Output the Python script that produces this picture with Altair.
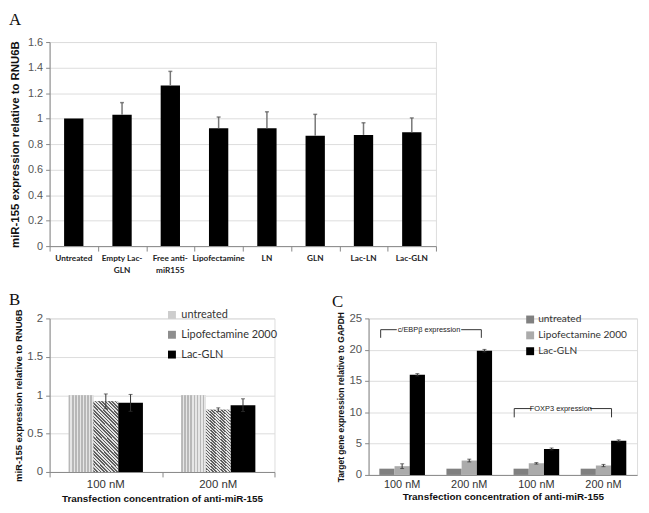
import altair as alt
import pandas as pd

# ---------------- Panel A data ----------------
a_categories = ["Untreated", "Empty Lac-|GLN", "Free anti-|miR155", "Lipofectamine",
                "LN", "GLN", "Lac-LN", "Lac-GLN"]
a_values = [1.0, 1.03, 1.26, 0.925, 0.925, 0.865, 0.872, 0.892]
a_errors = [0.0, 0.095, 0.11, 0.087, 0.128, 0.168, 0.095, 0.113]
a_yticks = [0, 0.2, 0.4, 0.6, 0.8, 1.0, 1.2, 1.4, 1.6]

# ---------------- Panel B data ----------------
b_groups = ["100 nM", "200 nM"]
series = ["untreated", "Lipofectamine 2000", "Lac-GLN"]
b_values_100 = [1.0, 0.92, 0.90]
b_values_200 = [1.0, 0.81, 0.87]
b_errors_100 = [0.0, 0.096, 0.11]
b_errors_200 = [0.0, 0.025, 0.083]
b_yticks = [0, 0.5, 1, 1.5, 2]

# ---------------- Panel C data ----------------
c_groups = ["c/EBPβ 100 nM", "c/EBPβ 200 nM", "FOXP3 100 nM", "FOXP3 200 nM"]
c_untreated = [1.0, 1.0, 1.0, 1.0]
c_lipo = [1.4, 2.3, 1.85, 1.5]
c_lacgln = [16.0, 19.85, 4.15, 5.45]
c_untreated_err = [0.0, 0.0, 0.0, 0.0]
c_lipo_err = [0.38, 0.22, 0.12, 0.18]
c_lacgln_err = [0.18, 0.2, 0.15, 0.15]
c_yticks = [0, 5, 10, 15, 20, 25]

# bracket annotations in panel C (group-index units on x, data units on y)
br_labels = ["c/EBPβ expression", "FOXP3 expression"]
br_left = [0.18, 2.17]
br_right = [1.68, 3.62]
br_gap_left = [0.42, 2.43]
br_gap_right = [1.38, 3.3]
br_top = [23.2, 10.6]
br_leg = [21.9, 9.2]

FONT = "Lato"
SERIF = "Liberation Serif"

# ================= Panel A =================
dfA = pd.DataFrame({"cat": a_categories, "val": a_values, "err": a_errors})
dfA["hi"] = dfA["val"] + dfA["err"]

xA_scale = alt.Scale(domain=a_categories, paddingInner=0.6, paddingOuter=0.3)
yA_scale = alt.Scale(domain=[0, 1.6], nice=False)
yA_axis = alt.Axis(values=a_yticks, format="~g", title="miR-155 expression relative to RNU6B",
                   titleFontSize=11.5, titleFontWeight="bold", titleColor="#111",
                   titlePadding=7, labelFontSize=11, labelColor="#555",
                   tickSize=4, labelPadding=3, labelOverlap=False)
xA = alt.X("cat:N", sort=a_categories, scale=xA_scale,
           axis=alt.Axis(title=None, labelAngle=0, ticks=False, tickSize=0,
                         labelExpr="split(datum.label, '|')",
                         labelFont=FONT, labelFontWeight="bold", labelFontSize=8.3,
                         labelColor="#222", labelPadding=8, labelLineHeight=12))

barsA = alt.Chart(dfA).mark_bar(color="black").encode(
    x=xA, y=alt.Y("val:Q", scale=yA_scale, axis=yA_axis))
errA = alt.Chart(dfA).transform_filter("datum.err > 0").mark_rule(color="#777", strokeWidth=1.5).encode(
    x=xA, y=alt.Y("val:Q", scale=yA_scale, axis=yA_axis), y2="hi:Q")
capA = alt.Chart(dfA).transform_filter("datum.err > 0").mark_tick(color="#555", thickness=1.5, size=4).encode(
    x=xA, y=alt.Y("hi:Q", scale=yA_scale, axis=yA_axis))

tA = pd.DataFrame({"t": list(range(len(a_categories) + 1))})
ticksA = alt.Chart(tA).mark_point(opacity=0).encode(
    x=alt.X("t:Q", scale=alt.Scale(domain=[0, len(a_categories)], nice=False, zero=False),
            axis=alt.Axis(orient="bottom", values=list(range(len(a_categories) + 1)), labels=False,
                          domain=False, title=None, tickSize=5, grid=False)))

chartA = alt.layer(alt.layer(barsA, errA, capA), ticksA).resolve_scale(x="independent").properties(
    width=390, height=206,
    title=alt.TitleParams("A", anchor="start", frame="group", font=SERIF, fontSize=17,
                          fontWeight="normal", dx=-41, offset=7, color="#111"))

# ================= Panel B =================
rows = []
for g, vals, errs in [(b_groups[0], b_values_100, b_errors_100), (b_groups[1], b_values_200, b_errors_200)]:
    for s, v, e in zip(series, vals, errs):
        rows.append({"grp": g, "series": s, "val": v, "err": e})
dfB = pd.DataFrame(rows)
dfB["lo"] = dfB["val"] - dfB["err"]
dfB["hi"] = dfB["val"] + dfB["err"]

b_colors = ["#cdcdcd", "#8e8e8e", "#000000"]
xB_scale = alt.Scale(domain=b_groups, paddingInner=0.34, paddingOuter=0.17)
xoB_scale = alt.Scale(domain=series, paddingInner=0, paddingOuter=0)
yB_scale = alt.Scale(domain=[0, 2], nice=False)
yB_axis = alt.Axis(values=b_yticks, format="~g", title="miR-155 expression relative to RNU6B",
                   titleFontSize=9.6, titleFontWeight="bold", titleColor="#111", titlePadding=3,
                   labelFontSize=11.5, labelColor="#555", tickSize=4, labelPadding=3,
                   labelOverlap=False)
xB = alt.X("grp:N", sort=b_groups, scale=xB_scale,
           axis=alt.Axis(title="Transfection concentration of anti-miR-155", labelAngle=0, ticks=False,
                         tickSize=0, labelFontSize=11.5, labelColor="#333", labelPadding=7,
                         titleFontSize=10, titleFontWeight="bold", titleColor="#111", titlePadding=3))
xoB = alt.XOffset("series:N", sort=series, scale=xoB_scale)


def stripes(n, frac, dark, light):
    stops = []
    for i in range(n):
        a = i / n
        b = (i + frac) / n
        c = (i + 1) / n
        stops += [alt.GradientStop(color=dark, offset=a), alt.GradientStop(color=dark, offset=b),
                  alt.GradientStop(color=light, offset=b), alt.GradientStop(color=light, offset=c)]
    return stops


grad_vert = alt.LinearGradient(gradient="linear", stops=stripes(8, 0.55, "#b8b8b8", "#e6e6e6"),
                               x1=0, y1=0, x2=1, y2=0)
grad_diag = alt.LinearGradient(gradient="linear", stops=stripes(28, 0.5, "#606060", "#e4e4e4"),
                               x1=0, y1=1, x2=0.43, y2=-0.2)

barsB = alt.Chart(dfB).mark_bar().encode(
    x=xB, xOffset=xoB, y=alt.Y("val:Q", scale=yB_scale, axis=yB_axis),
    color=alt.Color("series:N", sort=series, scale=alt.Scale(domain=series, range=b_colors),
                    legend=alt.Legend(orient="none", legendX=118, legendY=-9, title=None,
                                      symbolType="square", symbolSize=64, symbolStrokeWidth=0,
                                      labelFont=FONT, labelFontSize=11, labelColor="#333",
                                      rowPadding=8, padding=0, labelOffset=4)))
ovB1 = alt.Chart(dfB).transform_filter(alt.datum.series == series[0]).mark_bar(color=grad_vert).encode(
    x=xB, xOffset=xoB, y=alt.Y("val:Q", scale=yB_scale, axis=yB_axis))
ovB2 = alt.Chart(dfB).transform_filter(alt.datum.series == series[1]).mark_bar(color=grad_diag).encode(
    x=xB, xOffset=xoB, y=alt.Y("val:Q", scale=yB_scale, axis=yB_axis))
errB = alt.Chart(dfB).transform_filter("datum.err > 0").mark_rule(color="#333", strokeWidth=1).encode(
    x=xB, xOffset=xoB, y=alt.Y("lo:Q", scale=yB_scale, axis=yB_axis), y2="hi:Q")
capB = alt.Chart(dfB).transform_filter("datum.err > 0").transform_fold(["lo", "hi"], as_=["end", "yv"]).mark_tick(
    color="#333", thickness=1, size=4).encode(
    x=xB, xOffset=xoB, y=alt.Y("yv:Q", scale=yB_scale, axis=yB_axis))

tB = pd.DataFrame({"t": list(range(len(b_groups) + 1))})
ticksB = alt.Chart(tB).mark_point(opacity=0).encode(
    x=alt.X("t:Q", scale=alt.Scale(domain=[0, len(b_groups)], nice=False, zero=False),
            axis=alt.Axis(orient="bottom", values=list(range(len(b_groups) + 1)), labels=False,
                          domain=False, title=None, tickSize=5, grid=False)))

chartB = alt.layer(alt.layer(barsB, ovB1, ovB2, errB, capB), ticksB).resolve_scale(x="independent").properties(
    width=227, height=155,
    title=alt.TitleParams("B", anchor="start", frame="group", font=SERIF, fontSize=17,
                          fontWeight="normal", dx=-41, offset=0, color="#111"))

# ================= Panel C =================
rows = []
for i, g in enumerate(c_groups):
    for s, v, e in zip(series, [c_untreated[i], c_lipo[i], c_lacgln[i]],
                       [c_untreated_err[i], c_lipo_err[i], c_lacgln_err[i]]):
        rows.append({"grp": g, "series": s, "val": v, "err": e})
dfC = pd.DataFrame(rows)
dfC["lo"] = dfC["val"] - dfC["err"]
dfC["hi"] = dfC["val"] + dfC["err"]

c_colors = ["#808080", "#ababab", "#000000"]
xC_scale = alt.Scale(domain=c_groups, paddingInner=0.32, paddingOuter=0.16)
xoC_scale = alt.Scale(domain=series, paddingInner=0, paddingOuter=0)
yC_scale = alt.Scale(domain=[0, 25], nice=False)
yC_axis = alt.Axis(values=c_yticks, format="~g", title="Target gene expression relative to GAPDH",
                   titleFontSize=8.6, titleFontWeight="bold", titleColor="#111", titlePadding=4,
                   labelFontSize=11.5, labelColor="#555", tickSize=4, labelPadding=3,
                   labelOverlap=False)
xC = alt.X("grp:N", sort=c_groups, scale=xC_scale,
           axis=alt.Axis(title="Transfection concentration of anti-miR-155", labelAngle=0, ticks=False,
                         tickSize=0, labelExpr="split(datum.label, ' ')[1] + ' nM'",
                         labelFontSize=11, labelColor="#333", labelPadding=4,
                         titleFontSize=10, titleFontWeight="bold", titleColor="#111", titlePadding=2))
xoC = alt.XOffset("series:N", sort=series, scale=xoC_scale)

barsC = alt.Chart(dfC).mark_bar().encode(
    x=xC, xOffset=xoC, y=alt.Y("val:Q", scale=yC_scale, axis=yC_axis),
    color=alt.Color("series:N", sort=series, scale=alt.Scale(domain=series, range=c_colors),
                    legend=alt.Legend(orient="none", legendX=158, legendY=-4, title=None,
                                      symbolType="square", symbolSize=64, symbolStrokeWidth=0,
                                      labelFont=FONT, labelFontSize=10.2, labelColor="#333",
                                      rowPadding=5, padding=0, labelOffset=3)))
errC = alt.Chart(dfC).transform_filter("datum.err > 0").mark_rule(color="#333", strokeWidth=1).encode(
    x=xC, xOffset=xoC, y=alt.Y("lo:Q", scale=yC_scale, axis=yC_axis), y2="hi:Q")
capC = alt.Chart(dfC).transform_filter("datum.err > 0").transform_fold(["lo", "hi"], as_=["end", "yv"]).mark_tick(
    color="#333", thickness=1, size=4).encode(
    x=xC, xOffset=xoC, y=alt.Y("yv:Q", scale=yC_scale, axis=yC_axis))

nC = len(c_groups)
xq = alt.Scale(domain=[0, nC], nice=False, zero=False)
tC = pd.DataFrame({"t": list(range(nC + 1))})
ticksC = alt.Chart(tC).mark_point(opacity=0).encode(
    x=alt.X("t:Q", scale=xq,
            axis=alt.Axis(orient="bottom", values=list(range(nC + 1)), labels=False,
                          domain=False, title=None, tickSize=5, grid=False)))

seg = []
for i in range(len(br_labels)):
    seg.append({"x": br_left[i], "x2": br_gap_left[i], "y": br_top[i], "y2": br_top[i]})
    seg.append({"x": br_gap_right[i], "x2": br_right[i], "y": br_top[i], "y2": br_top[i]})
    seg.append({"x": br_left[i], "x2": br_left[i], "y": br_top[i], "y2": br_leg[i]})
    seg.append({"x": br_right[i], "x2": br_right[i], "y": br_top[i], "y2": br_leg[i]})
dfSeg = pd.DataFrame(seg)
dfTxt = pd.DataFrame({"label": br_labels,
                      "x": [(a + b) / 2 for a, b in zip(br_gap_left, br_gap_right)],
                      "y": br_top})
segC = alt.Chart(dfSeg).mark_rule(color="#333", strokeWidth=1).encode(
    x=alt.X("x:Q", scale=xq, axis=None), x2="x2:Q",
    y=alt.Y("y:Q", scale=yC_scale, axis=yC_axis), y2="y2:Q")
txtC = alt.Chart(dfTxt).mark_text(font="Liberation Sans", fontSize=7.5, color="#222", baseline="middle").encode(
    x=alt.X("x:Q", scale=xq, axis=None), y=alt.Y("y:Q", scale=yC_scale, axis=yC_axis), text="label:N")

chartC = alt.layer(alt.layer(barsC, errC, capC), alt.layer(ticksC, segC, txtC)).resolve_scale(
    x="independent").properties(
    width=271, height=158,
    title=alt.TitleParams("C", anchor="start", frame="group", font=SERIF, fontSize=17,
                          fontWeight="normal", dx=-37, offset=0, color="#111"))

bottom = alt.hconcat(chartB, chartC, spacing=95, bounds="flush").resolve_scale(
    color="independent", xOffset="independent")

chart = alt.vconcat(chartA, bottom, spacing=73, bounds="flush").resolve_scale(
    color="independent", xOffset="independent"
).properties(padding=0).configure_view(stroke=None).configure_axis(
    labelFont=FONT, titleFont=FONT, domainColor="black", tickColor="black", grid=False,
    domainWidth=1, tickWidth=1
).configure(background="white")

chart.save("out.html", embed_options={"renderer": "svg", "actions": False})
